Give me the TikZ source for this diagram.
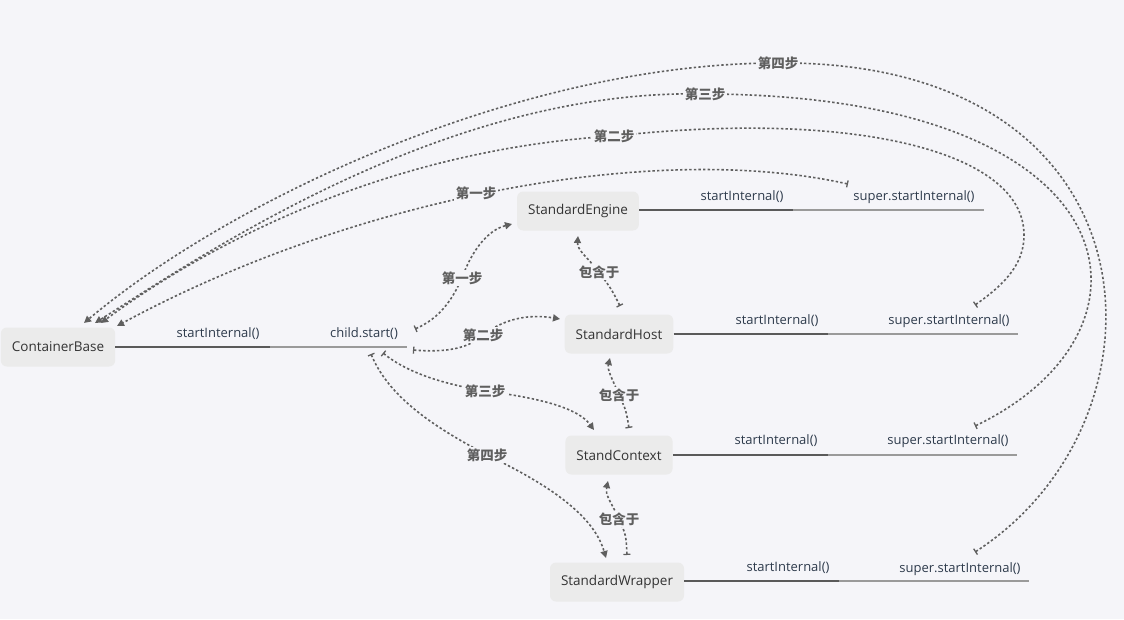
\documentclass[tikz,border=0pt]{standalone}
\usepackage{fontspec}
\setmainfont{Open Sans}
\newfontfamily\cjk{Noto Sans CJK SC}
\usetikzlibrary{arrows.meta}
\definecolor{bg}{HTML}{F5F5F9}
\definecolor{nodefill}{HTML}{EBEBEB}
\definecolor{nodetext}{HTML}{333333}
\definecolor{fntext}{HTML}{2E3B4C}
\definecolor{rel}{HTML}{5F5F5F}
\definecolor{darkline}{HTML}{5A5A5A}
\definecolor{lightline}{HTML}{9A9A9A}
\tikzset{
  box/.style={fill=nodefill, rounded corners=6pt, text=nodetext, inner xsep=11pt, minimum height=39pt, font=\fontsize{13.5}{15}\selectfont},
  fn/.style={text=fntext, font=\fontsize{13}{14}\selectfont, inner sep=1pt},
  darkseg/.style={draw=darkline, line width=2.4pt},
  lightseg/.style={draw=lightline, line width=1.2pt},
  relline/.style={draw=rel, line width=1.6pt, dash pattern=on 2.4pt off 2.2pt,
    {Bar[width=7pt,line width=1.3pt]}-{Triangle[length=7pt,width=7pt]}},
  rellbl/.style={fill=bg, text=rel, inner sep=1.5pt, font=\cjk\bfseries\fontsize{13.5}{15}\selectfont}
}
\begin{document}
\begin{tikzpicture}[x=1pt,y=-1pt]
\fill[bg] (0,0) rectangle (1124,619);
\useasboundingbox (0,0) rectangle (1124,619);

% nodes
\node[box] (CB) at (58,347) {ContainerBase};
\node[box] (SE) at (578,211) {StandardEngine};
\node[box] (SH) at (619,334) {StandardHost};
\node[box] (SC) at (619,455) {StandContext};
\node[box] (SW) at (617,582) {StandardWrapper};

% horizontal lines
\coordinate (cbA) at (270,347); \coordinate (cbB) at (407,347);
\draw[lightseg] (cbA) -- (cbB); \draw[darkseg] (CB.east) -- (cbA);
\node[fn] (cbl1) at (218,334) {startInternal()};
\node[fn] (cbl2) at (364,334) {child.start()};

\coordinate (seA) at (793,210); \coordinate (seB) at (984,210);
\draw[lightseg] (seA) -- (seB); \draw[darkseg] (SE.east |- seA) -- (seA);
\node[fn] (sel1) at (742,197) {startInternal()};
\node[fn] (sel2) at (914,197) {super.startInternal()};

\coordinate (shA) at (828,334); \coordinate (shB) at (1018,334);
\draw[lightseg] (shA) -- (shB); \draw[darkseg] (SH.east |- shA) -- (shA);
\node[fn] (shl1) at (777,321) {startInternal()};
\node[fn] (shl2) at (949,321) {super.startInternal()};

\coordinate (scA) at (828,455); \coordinate (scB) at (1017,455);
\draw[lightseg] (scA) -- (scB); \draw[darkseg] (SC.east |- scA) -- (scA);
\node[fn] (scl1) at (776,441) {startInternal()};
\node[fn] (scl2) at (948,441) {super.startInternal()};

\coordinate (swA) at (839,581); \coordinate (swB) at (1029,581);
\draw[lightseg] (swA) -- (swB); \draw[darkseg] (SW.east |- swA) -- (swA);
\node[fn] (swl1) at (788,568) {startInternal()};
\node[fn] (swl2) at (960,569) {super.startInternal()};

% outer relationship curves
\coordinate (o1s) at (848,184); \coordinate (o1e) at (117,326);
\coordinate (o2s) at (975,305); \coordinate (o2r) at (1024,235); \coordinate (o2m) at (614,136); \coordinate (o2e) at (101,323);
\coordinate (o3s) at (975,426); \coordinate (o3m) at (705,94);  \coordinate (o3e) at (95,323);
\coordinate (o4s) at (975,552); \coordinate (o4m) at (778,63);  \coordinate (o4e) at (84,323);

\draw[relline] (o1s) .. controls (650,140) and (350,200) .. (o1e);
\node[rellbl] (l1) at (476,193) {第一步};

\draw[relline] (o2s) .. controls (1008,282) and (1024,262) .. (o2r) .. controls (1024,150) and (850,110) .. (o2m) .. controls (380,150) and (200,250) .. (o2e);
\node[rellbl] at (o2m) {第二步};

\draw[relline] (o3s) .. controls (1175,330) and (1135,95) .. (o3m) .. controls (450,88) and (210,250) .. (o3e);
\node[rellbl] at (o3m) {第三步};

\draw[relline] (o4s) .. controls (1180,420) and (1165,60) .. (o4m) .. controls (520,63) and (230,200) .. (o4e);
\node[rellbl] at (o4m) {第四步};

% inner relationship curves
\coordinate (i1s) at (415,329); \coordinate (i1m) at (462,278); \coordinate (i1e) at (512,224);
\draw[relline] (i1s) .. controls (440,318) and (452,300) .. (i1m) .. controls (472,250) and (488,230) .. (i1e);
\node[rellbl] at (i1m) {第一步};

\coordinate (i2s) at (413,350); \coordinate (i2m) at (483,335); \coordinate (i2e) at (560,319);
\draw[relline] (i2s) .. controls (450,353) and (470,347) .. (i2m) .. controls (505,318) and (530,314) .. (i2e);
\node[rellbl] at (i2m) {第二步};

\coordinate (i3s) at (383,353); \coordinate (i3m) at (485,391); \coordinate (i3e) at (594,430);
\draw[relline] (i3s) .. controls (410,375) and (450,385) .. (i3m) .. controls (540,398) and (578,408) .. (i3e);
\node[rellbl] at (i3m) {第三步};

\coordinate (i4s) at (371,354); \coordinate (i4m) at (487,455); \coordinate (i4e) at (606,558);
\draw[relline] (i4s) .. controls (390,400) and (440,430) .. (i4m) .. controls (560,490) and (595,520) .. (i4e);
\node[rellbl] at (i4m) {第四步};

% contains
\coordinate (c1s) at (620,306); \coordinate (c1m) at (599,272); \coordinate (c1e) at (578,236);
\draw[relline] (c1s) .. controls (612,290) .. (c1m) .. controls (588,258) and (577,250) .. (c1e);
\node[rellbl] at (c1m) {包含于};

\coordinate (c2s) at (629,428); \coordinate (c2m) at (619,395); \coordinate (c2e) at (610,358);
\draw[relline] (c2s) .. controls (626,410) .. (c2m) .. controls (612,378) and (607,370) .. (c2e);
\node[rellbl] at (c2m) {包含于};

\coordinate (c3s) at (627,555); \coordinate (c3m) at (619,519); \coordinate (c3e) at (608,481);
\draw[relline] (c3s) .. controls (626,535) .. (c3m) .. controls (610,500) and (605,495) .. (c3e);
\node[rellbl] at (c3m) {包含于};
\end{tikzpicture}
\end{document}
